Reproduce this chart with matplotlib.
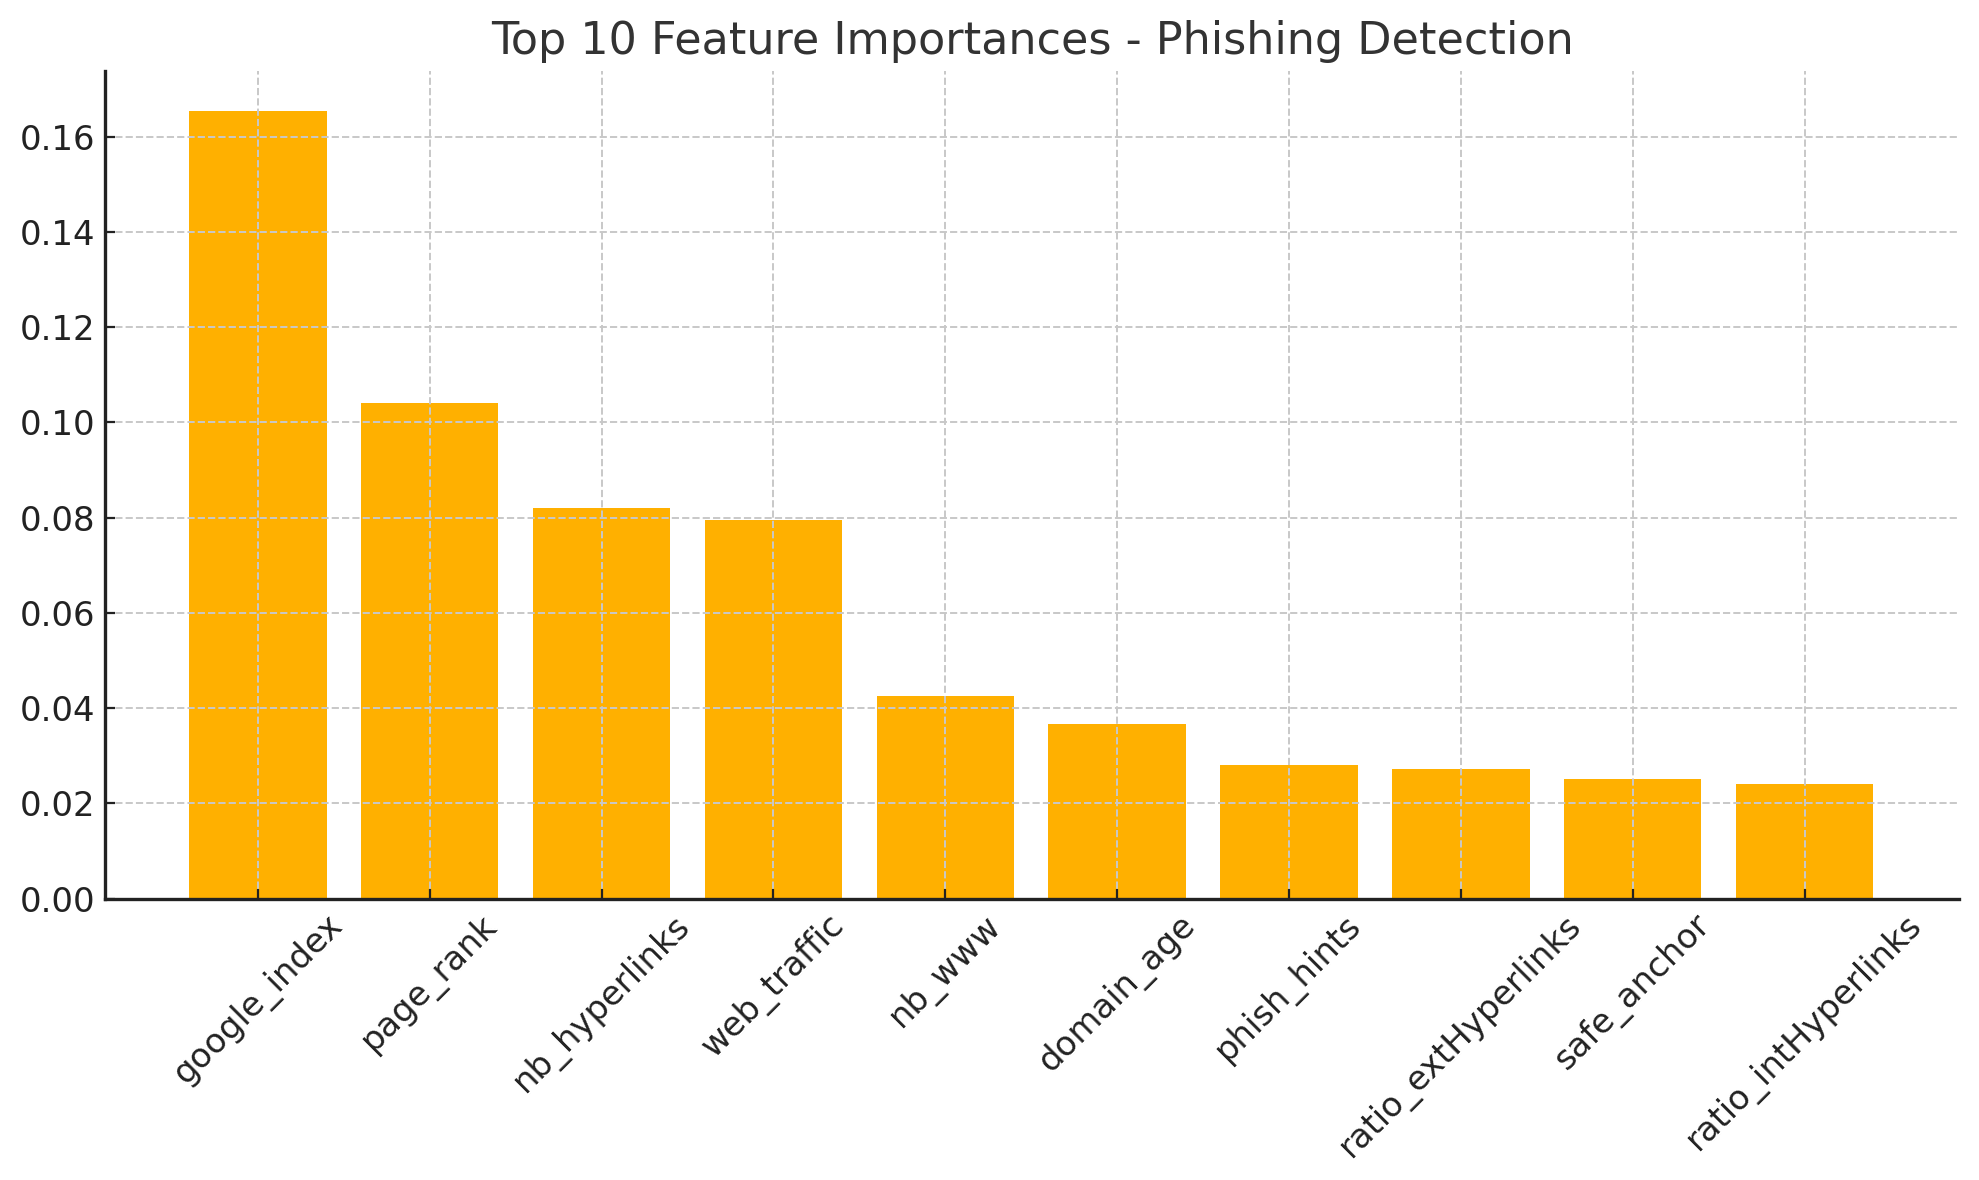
import matplotlib
matplotlib.use("Agg")
import matplotlib.pyplot as plt

# feature importances
features = ["google_index", "page_rank", "nb_hyperlinks", "web_traffic", "nb_www",
            "domain_age", "phish_hints", "ratio_extHyperlinks", "safe_anchor",
            "ratio_intHyperlinks"]
importances = [0.1654, 0.1041, 0.0819, 0.0795, 0.0426,
               0.0366, 0.0281, 0.0273, 0.0252, 0.0241]

fig, ax = plt.subplots(figsize=(9.895, 5.9), dpi=200)
ax.bar(features, importances, color="#FFB000", width=0.8, zorder=1)

ax.set_title("Top 10 Feature Importances - Phishing Detection", fontsize=16, color="#333333", pad=6)
ax.tick_params(axis="both", direction="in", labelsize=12.2, colors="#222222", labelcolor="#222222")
plt.xticks(rotation=45)
ax.grid(True, linestyle="--", color="#c8c8c8", linewidth=0.7, zorder=0)
ax.set_axisbelow(False)
for s in ["top", "right"]:
    ax.spines[s].set_visible(False)
for s in ["left", "bottom"]:
    ax.spines[s].set_color("#222222")
    ax.spines[s].set_linewidth(1.2)
    ax.spines[s].set_zorder(5)
ax.set_ylim(0, 0.1738)
ax.set_xlim(-0.89, 9.9)

fig.subplots_adjust(left=0.053, right=0.990, top=0.940, bottom=0.2385)
plt.savefig("out.png", dpi=200)
